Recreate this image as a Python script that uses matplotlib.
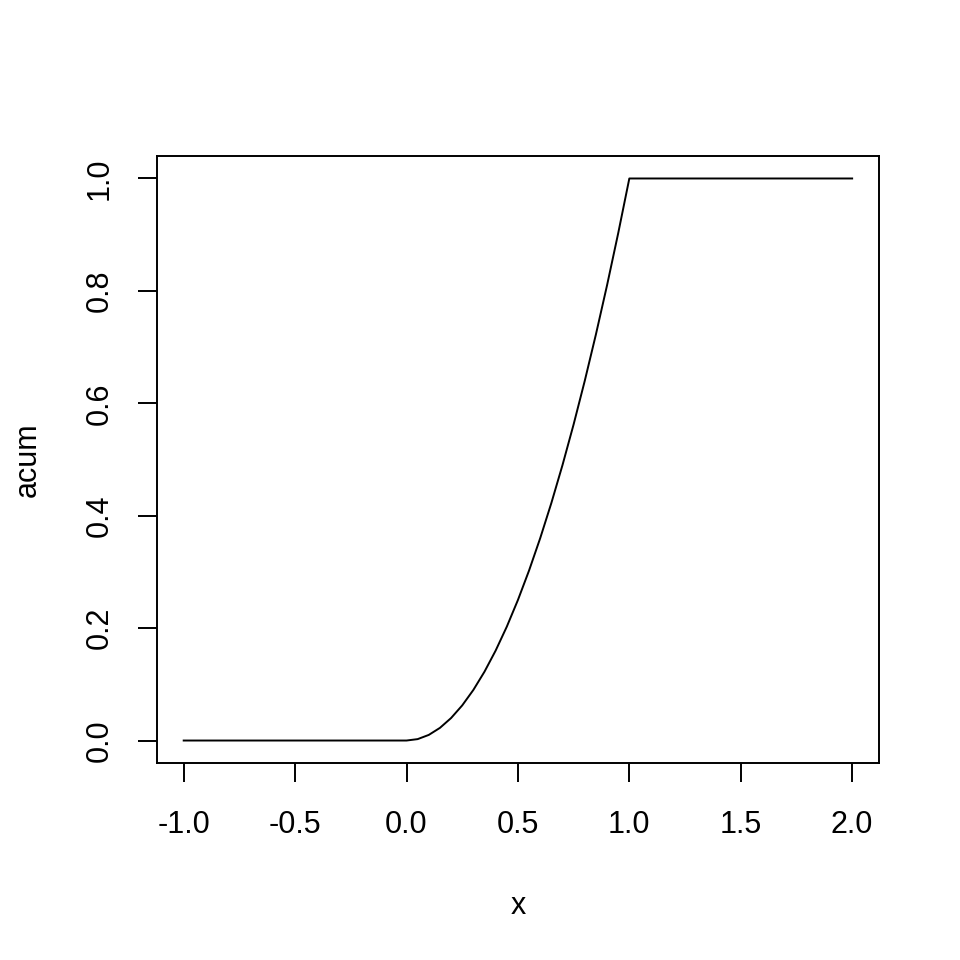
# Cumulative distribution "acum" plotted against x, base-R look
import matplotlib
matplotlib.use("Agg")
import matplotlib.pyplot as plt

# values
x = [-1.0, 0.0, 0.05, 0.10, 0.15, 0.20, 0.25, 0.30, 0.35, 0.40, 0.45, 0.50,
     0.55, 0.60, 0.65, 0.70, 0.75, 0.80, 0.85, 0.90, 0.95, 1.0, 2.0]
acum = [0.0, 0.0, 0.0025, 0.01, 0.0225, 0.04, 0.0625, 0.09, 0.1225, 0.16,
        0.2025, 0.25, 0.3025, 0.36, 0.4225, 0.49, 0.5625, 0.64, 0.7225,
        0.81, 0.9025, 1.0, 1.0]

x_ticks = [-1.0, -0.5, 0.0, 0.5, 1.0, 1.5, 2.0]
y_ticks = [0.0, 0.2, 0.4, 0.6, 0.8, 1.0]

plt.rcParams['font.family'] = ['Liberation Sans', 'DejaVu Sans']

fig = plt.figure(figsize=(9.6, 9.6), dpi=100)
ax = fig.add_axes([0.1635, 0.2052, 0.752, 0.6323])

ax.plot(x, acum, color='black', linewidth=1.4)

ax.set_xlim(-1.12, 2.12)
ax.set_ylim(-0.04, 1.04)
ax.set_xticks(x_ticks)
ax.set_yticks(y_ticks)
ax.set_xticklabels([f"{v:.1f}" for v in x_ticks])
ax.set_yticklabels([f"{v:.1f}" for v in y_ticks], rotation=90, va='center')

for s in ax.spines.values():
    s.set_linewidth(1.4)

ax.tick_params(axis='both', direction='out', length=13.7, width=1.4,
               labelsize=22)
ax.tick_params(axis='x', pad=20)
ax.tick_params(axis='y', pad=17)

ax.set_xlabel('x', fontsize=22, labelpad=37)
ax.set_ylabel('acum', fontsize=22, labelpad=30)

fig.savefig('out.png', dpi=100)
